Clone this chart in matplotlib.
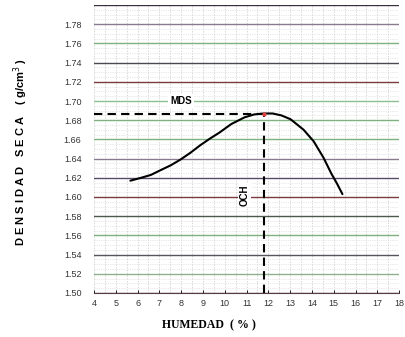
import numpy as np
import matplotlib
matplotlib.use("Agg")
import matplotlib.pyplot as plt

# Curva de compactacion (Proctor) - densidad seca vs humedad
humedad = [5.67, 6.16, 6.61, 7.06, 7.52, 7.97, 8.42, 8.88, 9.33, 9.75, 10.30,
           10.91, 11.35, 11.78, 12.20, 12.60, 13.02, 13.62, 14.08, 14.53,
           14.90, 15.15, 15.40]
densidad = [1.617, 1.620, 1.623, 1.628, 1.633, 1.639, 1.646, 1.654, 1.661, 1.667,
            1.676, 1.683, 1.686, 1.687, 1.687, 1.685, 1.681, 1.670, 1.658, 1.641,
            1.624, 1.614, 1.603]

och = 11.8    # contenido optimo de humedad
mds = 1.686   # maxima densidad seca

x_ticks = list(range(4, 19))
y_ticks = [1.50, 1.52, 1.54, 1.56, 1.58, 1.60, 1.62, 1.64, 1.66, 1.68,
           1.70, 1.72, 1.74, 1.76, 1.78, 1.80]
y_labels = ["1.50", "1.52", "1.54", "1.56", "1.58", "1.60", "1.62", "1.64",
            "1.66", "1.68", "1.70", "1.72", "1.74", "1.76", "1.78", ""]

# colores de las lineas principales (papel milimetrado escaneado)
line_colors = ["#5a4a55", "#8fb08f", "#555560", "#7fae7f", "#4a5a4a", "#7a3a40",
               "#5a4a6a", "#8a7a90", "#7fb07f", "#7fb07f", "#8fbf8f", "#7a3a40",
               "#4a4a55", "#7fb07f", "#8a7a90", "#3a3040"]

plt.rcParams['font.family'] = ['Liberation Sans', 'DejaVu Sans']
fig = plt.figure(figsize=(4.06, 3.37), dpi=100)
ax = fig.add_axes([0.2315, 0.1306, 0.7515, 0.8545])

ax.set_xlim(4, 18)
ax.set_ylim(1.50, 1.80)

# cuadricula fina
for xv in np.arange(4, 18.01, 0.5):
    ax.axvline(xv, color="#c8c8c8", lw=0.5, ls=(0, (2, 2)), zorder=0)
for yv in np.arange(1.50, 1.80, 0.005):
    ax.axhline(yv, color="#d5d5d5", lw=0.4, ls=(0, (2, 2)), zorder=0)
for yv, c in zip(y_ticks, line_colors):
    ax.axhline(yv, color=c, lw=1.0, zorder=1)

ax.plot(humedad, densidad, color="black", lw=1.5, zorder=4,
        solid_joinstyle="round", solid_capstyle="round")
ax.plot([4, och], [mds, mds], color="black", lw=1.5, ls=(0, (4, 2.5)), zorder=3)
ax.plot([och, och], [1.50, mds], color="black", lw=1.5, ls=(0, (4, 2.5)), zorder=3)
ax.plot([och], [mds], marker="o", ms=2, color="#e04040", zorder=5)

ax.text(8.0, 1.6995, "MDS", fontsize=7, fontweight="bold", ha="center", va="center",
        bbox=dict(facecolor="white", edgecolor="none", pad=1.5), zorder=6)
ax.text(10.9, 1.602, "OCH", fontsize=7, fontweight="bold", ha="center", va="center",
        rotation=90, bbox=dict(facecolor="white", edgecolor="none", pad=1.0), zorder=6)

ax.set_xticks(x_ticks)
ax.set_xticklabels([str(v) for v in x_ticks], fontsize=6.5, color="#333333")
ax.set_yticks(y_ticks)
ax.set_yticklabels(y_labels, fontsize=6.5, color="#333333")
ax.tick_params(axis="both", length=2, width=0.6, direction="in", pad=4)
ax.tick_params(axis="y", length=0, pad=9)

for s in ["top", "right", "left"]:
    ax.spines[s].set_visible(False)
ax.spines["bottom"].set_color("#5a3a40")

fig.text(0.515, 0.035, "HUMEDAD  ( % )", fontsize=8.5, fontweight="bold",
         family=["Liberation Serif", "DejaVu Serif"], ha="center", va="center")
fig.text(0.05, 0.55, "D E N S I D A D   S E C A    ( g/cm$^3$ )", fontsize=8,
         fontweight="bold", rotation=90, ha="center", va="center")

fig.savefig("out.png", dpi=100)
